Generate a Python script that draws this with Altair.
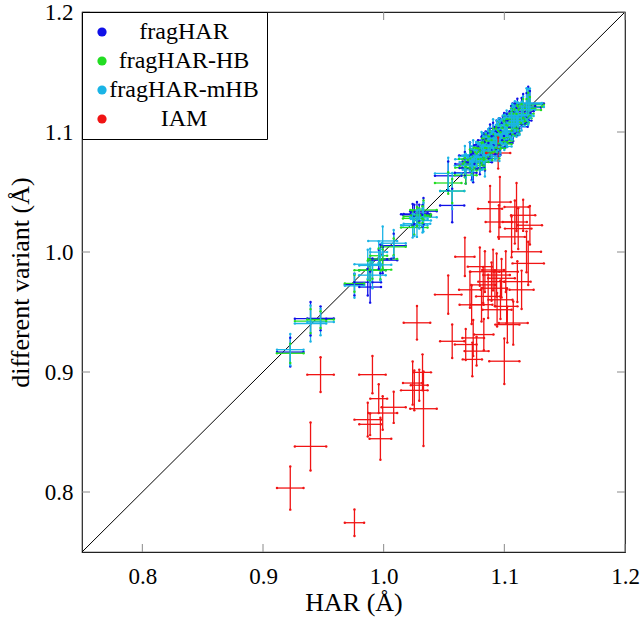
import altair as alt
import pandas as pd

# Series names and colours (legend order)
METHODS = ["fragHAR", "fragHAR-HB", "fragHAR-mHB", "IAM"]
COLORS = ["#1010e8", "#22dd22", "#1ab4e6", "#f01414"]

# HAR X-H bond lengths (Å) and their standard uncertainties
har = [
    0.9226, 0.9394, 0.9477, 0.9758, 0.9868, 0.9888, 0.9907, 0.9959, 0.9973, 0.9992,
    1.0083, 1.0240, 1.0254, 1.0276, 1.0295, 1.0322, 1.0330, 1.0535, 1.0568, 1.0673,
    1.0680, 1.0715, 1.0729, 1.0735, 1.0742, 1.0770, 1.0797, 1.0811, 1.0825, 1.0830,
    1.0839, 1.0866, 1.0882, 1.0894, 1.0907, 1.0922, 1.0936, 1.0940, 1.0949, 1.0955,
    1.0963, 1.0968, 1.0977, 1.1000, 1.1012, 1.1019, 1.1025, 1.1060, 1.1074, 1.1087,
    1.1101, 1.1108, 1.1115, 1.1143, 1.1156, 1.1184, 1.1198, 1.1212,
]
har_err = [
    0.011, 0.013, 0.011, 0.008, 0.011, 0.009, 0.011, 0.007, 0.009, 0.012,
    0.010, 0.008, 0.011, 0.011, 0.007, 0.007, 0.011, 0.011, 0.010, 0.008,
    0.009, 0.009, 0.010, 0.008, 0.009, 0.010, 0.010, 0.009, 0.010, 0.008,
    0.012, 0.010, 0.010, 0.011, 0.009, 0.010, 0.011, 0.012, 0.010, 0.011,
    0.009, 0.010, 0.011, 0.0125, 0.010, 0.009, 0.010, 0.011, 0.012, 0.010,
    0.010, 0.011, 0.011, 0.010, 0.010, 0.012, 0.013, 0.010,
]

# fragHAR
frag = [
    0.9166, 0.9444, 0.9447, 0.9728, 0.9748, 0.9708, 0.9847, 0.9939, 0.9943, 0.9932,
    1.0053, 1.0310, 1.0314, 1.0316, 1.0325, 1.0302, 1.0340, 1.0635, 1.0388, 1.0733,
    1.0660, 1.0805, 1.0699, 1.0755, 1.0702, 1.0780, 1.0747, 1.0851, 1.0815, 1.0890,
    1.0799, 1.0896, 1.0932, 1.0874, 1.0967, 1.0942, 1.0976, 1.0910, 1.0939, 1.1005,
    1.0983, 1.0908, 1.0987, 1.1030, 1.0972, 1.1039, 1.1005, 1.1070, 1.1044, 1.1127,
    1.1101, 1.1158, 1.1095, 1.1173, 1.1216, 1.1204, 1.1238, 1.1232,
]
frag_err = [
    0.012, 0.014, 0.010, 0.009, 0.011, 0.013, 0.010, 0.008, 0.012, 0.011,
    0.010, 0.009, 0.008, 0.010, 0.007, 0.009, 0.011, 0.012, 0.014, 0.010,
    0.009, 0.011, 0.010, 0.008, 0.012, 0.009, 0.010, 0.011, 0.009, 0.010,
    0.012, 0.010, 0.013, 0.009, 0.011, 0.010, 0.012, 0.009, 0.010, 0.011,
    0.013, 0.010, 0.009, 0.012, 0.010, 0.011, 0.009, 0.010, 0.012, 0.011,
    0.010, 0.012, 0.009, 0.011, 0.010, 0.012, 0.014, 0.011,
]

# fragHAR-HB
frag_hb = [
    0.9156, 0.9424, 0.9437, 0.9738, 0.9848, 0.9848, 0.9847, 0.9969, 0.9853, 0.9942,
    1.0043, 1.0280, 1.0204, 1.0296, 1.0305, 1.0312, 1.0350, 1.0575, 1.0508, 1.0703,
    1.0640, 1.0775, 1.0719, 1.0735, 1.0772, 1.0750, 1.0767, 1.0831, 1.0835, 1.0870,
    1.0779, 1.0866, 1.0912, 1.0864, 1.0947, 1.0912, 1.0956, 1.0900, 1.0929, 1.0985,
    1.0963, 1.0928, 1.0967, 1.1010, 1.0982, 1.1029, 1.0985, 1.1090, 1.1064, 1.1107,
    1.1081, 1.1138, 1.1115, 1.1153, 1.1196, 1.1184, 1.1228, 1.1212,
]
frag_hb_err = [
    0.008, 0.010, 0.007, 0.007, 0.008, 0.009, 0.007, 0.006, 0.008, 0.008,
    0.007, 0.007, 0.006, 0.008, 0.006, 0.007, 0.008, 0.009, 0.010, 0.008,
    0.007, 0.008, 0.007, 0.006, 0.009, 0.007, 0.008, 0.008, 0.007, 0.008,
    0.009, 0.007, 0.009, 0.007, 0.008, 0.007, 0.009, 0.007, 0.008, 0.008,
    0.009, 0.007, 0.007, 0.009, 0.008, 0.008, 0.007, 0.008, 0.009, 0.008,
    0.007, 0.009, 0.007, 0.008, 0.008, 0.009, 0.010, 0.008,
]

# fragHAR-mHB
frag_mhb = [
    0.9186, 0.9404, 0.9417, 0.9718, 0.9898, 0.9888, 0.9807, 0.9999, 0.9893, 1.0092,
    1.0073, 1.0220, 1.0224, 1.0236, 1.0275, 1.0262, 1.0290, 1.0655, 1.0508, 1.0773,
    1.0720, 1.0795, 1.0749, 1.0685, 1.0802, 1.0810, 1.0787, 1.0881, 1.0795, 1.0850,
    1.0759, 1.0916, 1.0902, 1.0904, 1.0987, 1.0882, 1.0966, 1.0880, 1.0959, 1.0995,
    1.0943, 1.0938, 1.1007, 1.0980, 1.1012, 1.1059, 1.0975, 1.1050, 1.1094, 1.1137,
    1.1071, 1.1118, 1.1145, 1.1133, 1.1186, 1.1234, 1.1208, 1.1242,
]
frag_mhb_err = [
    0.013, 0.015, 0.011, 0.010, 0.012, 0.014, 0.011, 0.009, 0.013, 0.012,
    0.011, 0.010, 0.009, 0.011, 0.008, 0.010, 0.012, 0.013, 0.015, 0.011,
    0.010, 0.012, 0.011, 0.009, 0.013, 0.010, 0.011, 0.012, 0.010, 0.011,
    0.013, 0.011, 0.014, 0.010, 0.012, 0.011, 0.013, 0.010, 0.011, 0.012,
    0.014, 0.011, 0.010, 0.013, 0.011, 0.012, 0.010, 0.011, 0.013, 0.012,
    0.011, 0.013, 0.010, 0.012, 0.011, 0.013, 0.015, 0.012,
]

# IAM
iam = [
    0.8033, 0.8380, 0.8978, 0.7744, 0.8603, 0.8564, 0.8978, 0.8778, 0.8444, 0.8658,
    0.8706, 0.8908, 0.8847, 0.9410, 0.8890, 0.8997, 0.8694, 0.9645, 0.9256, 0.9960,
    0.9229, 0.9685, 0.9560, 0.9105, 0.9284, 0.9174, 0.9878, 0.9561, 0.9726, 0.9312,
    0.9836, 0.9630, 1.0361, 0.9753, 0.9850, 0.9698, 0.9808, 0.9519, 1.0825, 1.0250,
    1.0416, 0.9602, 0.9781, 0.9090, 0.9836, 0.9547, 0.9395, 1.0126, 0.9408, 1.0250,
    1.0375, 0.9753, 1.0195, 0.9685, 1.0306, 1.0002, 0.9905, 1.0223,
]
iam_err = [
    0.018, 0.020, 0.0145, 0.011, 0.014, 0.009, 0.0155, 0.012, 0.0175, 0.014,
    0.013, 0.018, 0.0165, 0.014, 0.013, 0.015, 0.031, 0.016, 0.014, 0.016,
    0.013, 0.015, 0.016, 0.014, 0.015, 0.012, 0.016, 0.014, 0.015, 0.013,
    0.017, 0.018, 0.019, 0.016, 0.017, 0.015, 0.018, 0.014, 0.013, 0.014,
    0.021, 0.016, 0.016, 0.019, 0.017, 0.014, 0.015, 0.017, 0.018, 0.018,
    0.020, 0.017, 0.017, 0.016, 0.013, 0.017, 0.018, 0.016,
]

tick_values = [0.8, 0.9, 1.0, 1.1, 1.2]
domain = [0.75, 1.2]

FONT = "Liberation Serif"
W, H = 543, 540
TICK_LEN = 8

series = [(frag, frag_err), (frag_hb, frag_hb_err), (frag_mhb, frag_mhb_err), (iam, iam_err)]

centers, segments, caps = [], [], []
for method, (ys, es) in zip(METHODS, series):
    for x, dx, y, dy in zip(har, har_err, ys, es):
        centers.append({"method": method, "x": x, "y": y})
        segments.append({"method": method, "x": x - dx, "x2": x + dx, "y": y, "y2": y})
        segments.append({"method": method, "x": x, "x2": x, "y": y - dy, "y2": y + dy})
        for cx, cy in ((x - dx, y), (x + dx, y), (x, y - dy), (x, y + dy)):
            caps.append({"method": method, "x": cx, "y": cy})

centers_df = pd.DataFrame(centers)
segments_df = pd.DataFrame(segments)
caps_df = pd.DataFrame(caps)
diag_df = pd.DataFrame({"x": [domain[0]], "y": [domain[0]], "x2": [domain[1]], "y2": [domain[1]]})
ticks_df = pd.DataFrame({"x": tick_values, "y": tick_values})

xscale = alt.Scale(domain=domain, nice=False, zero=False)
yscale = alt.Scale(domain=domain, nice=False, zero=False)

X = alt.X(
    "x:Q", scale=xscale, title="HAR (Å)",
    axis=alt.Axis(values=tick_values, format=".1f", ticks=False, tickSize=0, domain=False,
                  grid=False, labelPadding=13, titlePadding=1, labelFlush=False),
)
Y = alt.Y(
    "y:Q", scale=yscale, title="different variant (Å)",
    axis=alt.Axis(values=tick_values, format=".1f", ticks=False, tickSize=0, domain=False,
                  grid=False, labelPadding=9, titlePadding=11, labelFlush=False),
)
color_scale = alt.Scale(domain=METHODS, range=COLORS)
color_nolegend = alt.Color("method:N", scale=color_scale, legend=None)

# inward-pointing ticks on all four sides of the frame
base_tick = alt.Chart(ticks_df).mark_rule(color="#8a8a8a", strokeWidth=1)
ticks_bottom = base_tick.encode(x=X, y=alt.value(H), y2=alt.value(H - TICK_LEN))
ticks_top = base_tick.encode(x=X, y=alt.value(0), y2=alt.value(TICK_LEN))
ticks_left = base_tick.encode(y=Y, x=alt.value(0), x2=alt.value(TICK_LEN))
ticks_right = base_tick.encode(y=Y, x=alt.value(W), x2=alt.value(W - TICK_LEN))

# y = x reference line
diagonal = alt.Chart(diag_df).mark_rule(color="black", strokeWidth=1).encode(
    x=X, y=Y, x2="x2:Q", y2="y2:Q"
)

center_pts = alt.Chart(centers_df).mark_circle(size=1, opacity=1).encode(
    x=X, y=Y,
    color=alt.Color(
        "method:N", scale=color_scale,
        legend=alt.Legend(
            title=None, orient="top-left", offset=0, padding=8,
            fillColor="white", strokeColor="black", cornerRadius=0,
            symbolType="circle", symbolSize=85, symbolStrokeWidth=0, symbolOpacity=1,
            labelFont=FONT, labelFontSize=24, labelColor="black",
            labelAlign="center", labelOffset=70, labelLimit=400, rowPadding=5,
        ),
    ),
)

# error bars: one horizontal (HAR) and one vertical (variant) segment per bond
bars = alt.Chart(segments_df).mark_rule(strokeWidth=1.3).encode(
    x=X, y=Y, x2="x2:Q", y2="y2:Q", color=color_nolegend
)

end_caps = alt.Chart(caps_df).mark_circle(size=6, opacity=1).encode(
    x=X, y=Y, color=color_nolegend
)

chart = (
    alt.layer(center_pts, diagonal, bars, end_caps,
              ticks_bottom, ticks_top, ticks_left, ticks_right)
    .properties(width=W, height=H, padding={"left": 82, "top": 12, "right": 15, "bottom": 68},
                autosize=alt.AutoSizeParams(type="none"), background="white")
    .configure_view(stroke="#222222", strokeWidth=1.2)
    .configure_axis(labelFont=FONT, labelFontSize=23, labelColor="black",
                    titleFont=FONT, titleFontSize=26, titleColor="black",
                    titleFontWeight="normal")
)

chart.save("out.html", embed_options={"renderer": "svg", "actions": False})
